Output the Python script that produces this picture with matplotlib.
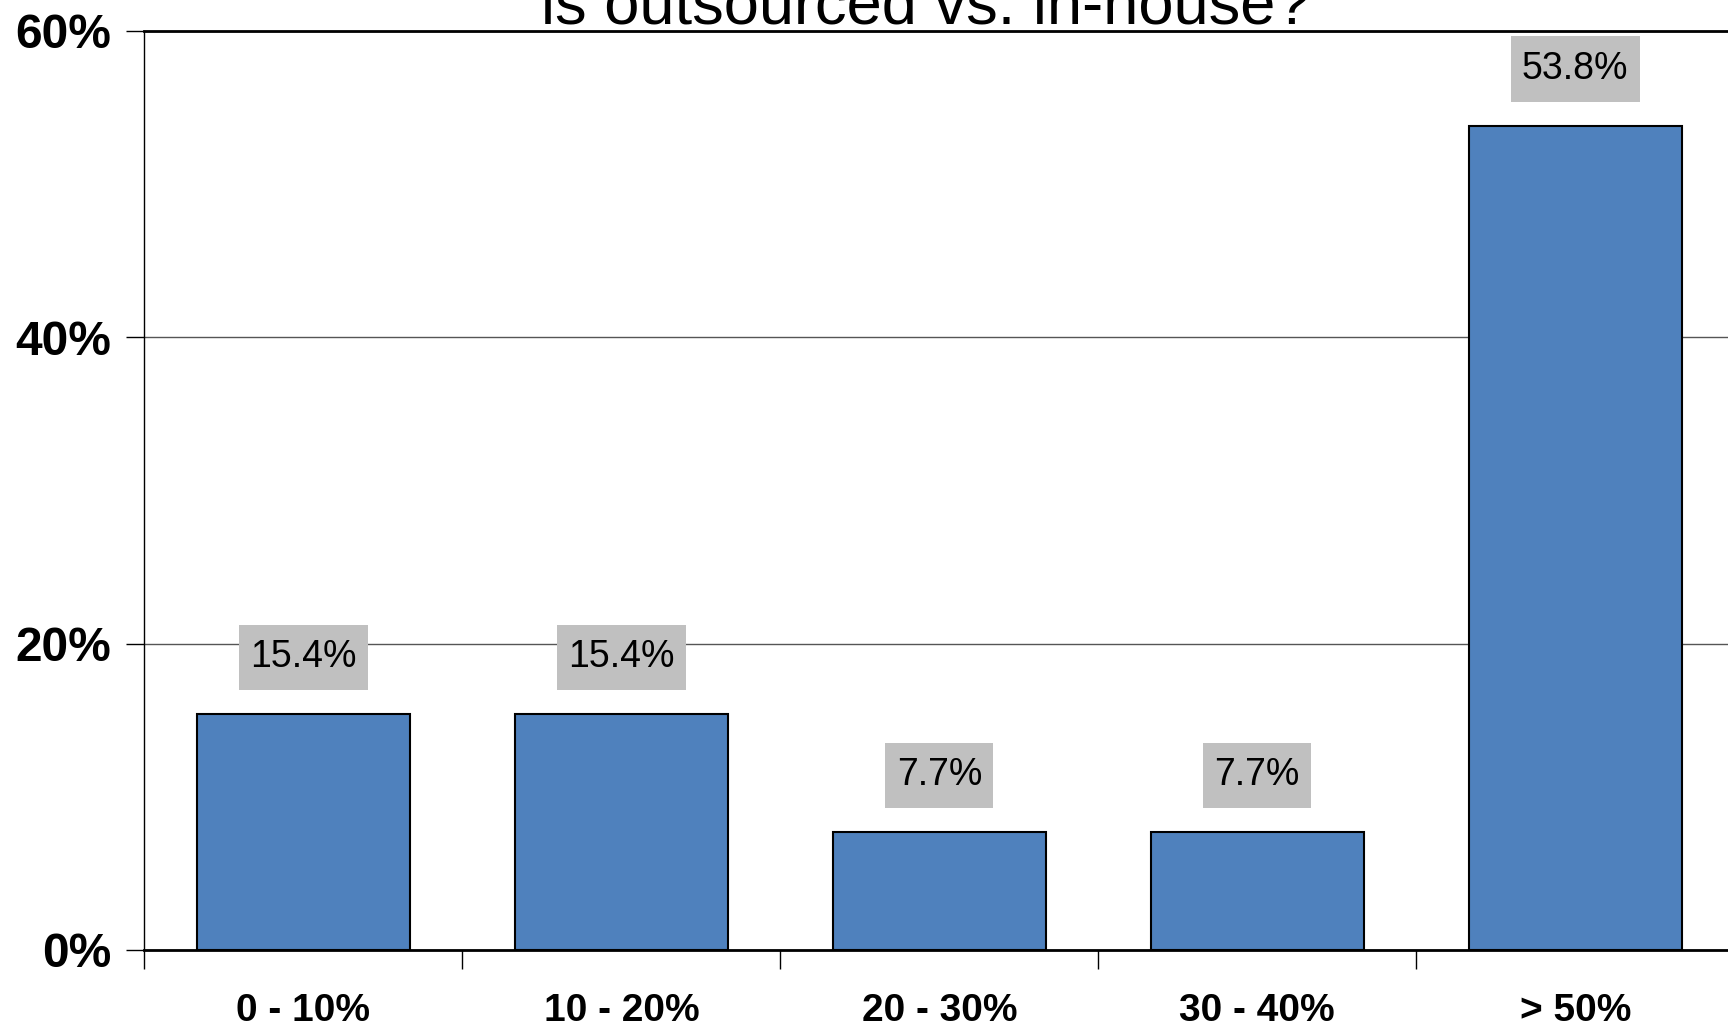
import matplotlib
matplotlib.use('Agg')
import matplotlib.pyplot as plt
import numpy as np

plt.rcParams['font.family'] = ['Liberation Sans', 'DejaVu Sans']

# data
categories = ['0 - 10%', '10 - 20%', '20 - 30%', '30 - 40%', '> 50%']
shares = [15.4, 15.4, 7.7, 7.7, 53.8]
y_ticks = [0, 20, 40, 60]
title_line = 'is outsourced vs. in-house?'

fig = plt.figure(figsize=(17.28, 10.31), dpi=100)
ax = fig.add_axes([0.0836, 0.0786, 0.920, 0.8915])

x = np.arange(len(categories))
ax.bar(x, shares, width=0.67, color='#4F81BD', edgecolor='black', linewidth=1.5, zorder=3)

# value labels in grey boxes
for xi, v in zip(x, shares):
    ax.text(xi, v + 3.7, f'{v:.1f}%', ha='center', va='center', fontsize=27,
            bbox=dict(boxstyle='square,pad=0.3', fc='#C0C0C0', ec='none',
                      mutation_aspect=1.3), zorder=4)

ax.set_xlim(-0.5, len(categories) - 0.5)
ax.set_ylim(0, 60)

ax.set_yticks(y_ticks)
ax.set_yticklabels([f'{t}%' for t in y_ticks], fontsize=34.5, fontweight='bold')
ax.yaxis.grid(True, color='#555555', linewidth=1.0, zorder=0)

# ticks between categories, labels centred on bars
ax.set_xticks(np.arange(len(categories) + 1) - 0.5)
ax.set_xticklabels([])
ax.set_xticks(x, minor=True)
ax.set_xticklabels(categories, minor=True, fontsize=28, fontweight='bold')
ax.tick_params(axis='x', which='minor', length=0, pad=31)
ax.tick_params(axis='x', which='major', length=14, width=1, direction='out')
ax.tick_params(axis='y', length=13, width=1, direction='out', pad=11)

ax.spines['top'].set_linewidth(2)
ax.spines['bottom'].set_linewidth(2)
ax.spines['left'].set_linewidth(1)
ax.spines['right'].set_linewidth(1)

fig.text(0.536, 0.977, title_line, ha='center', va='baseline', fontsize=45.5)

plt.savefig('out.png', dpi=100)
